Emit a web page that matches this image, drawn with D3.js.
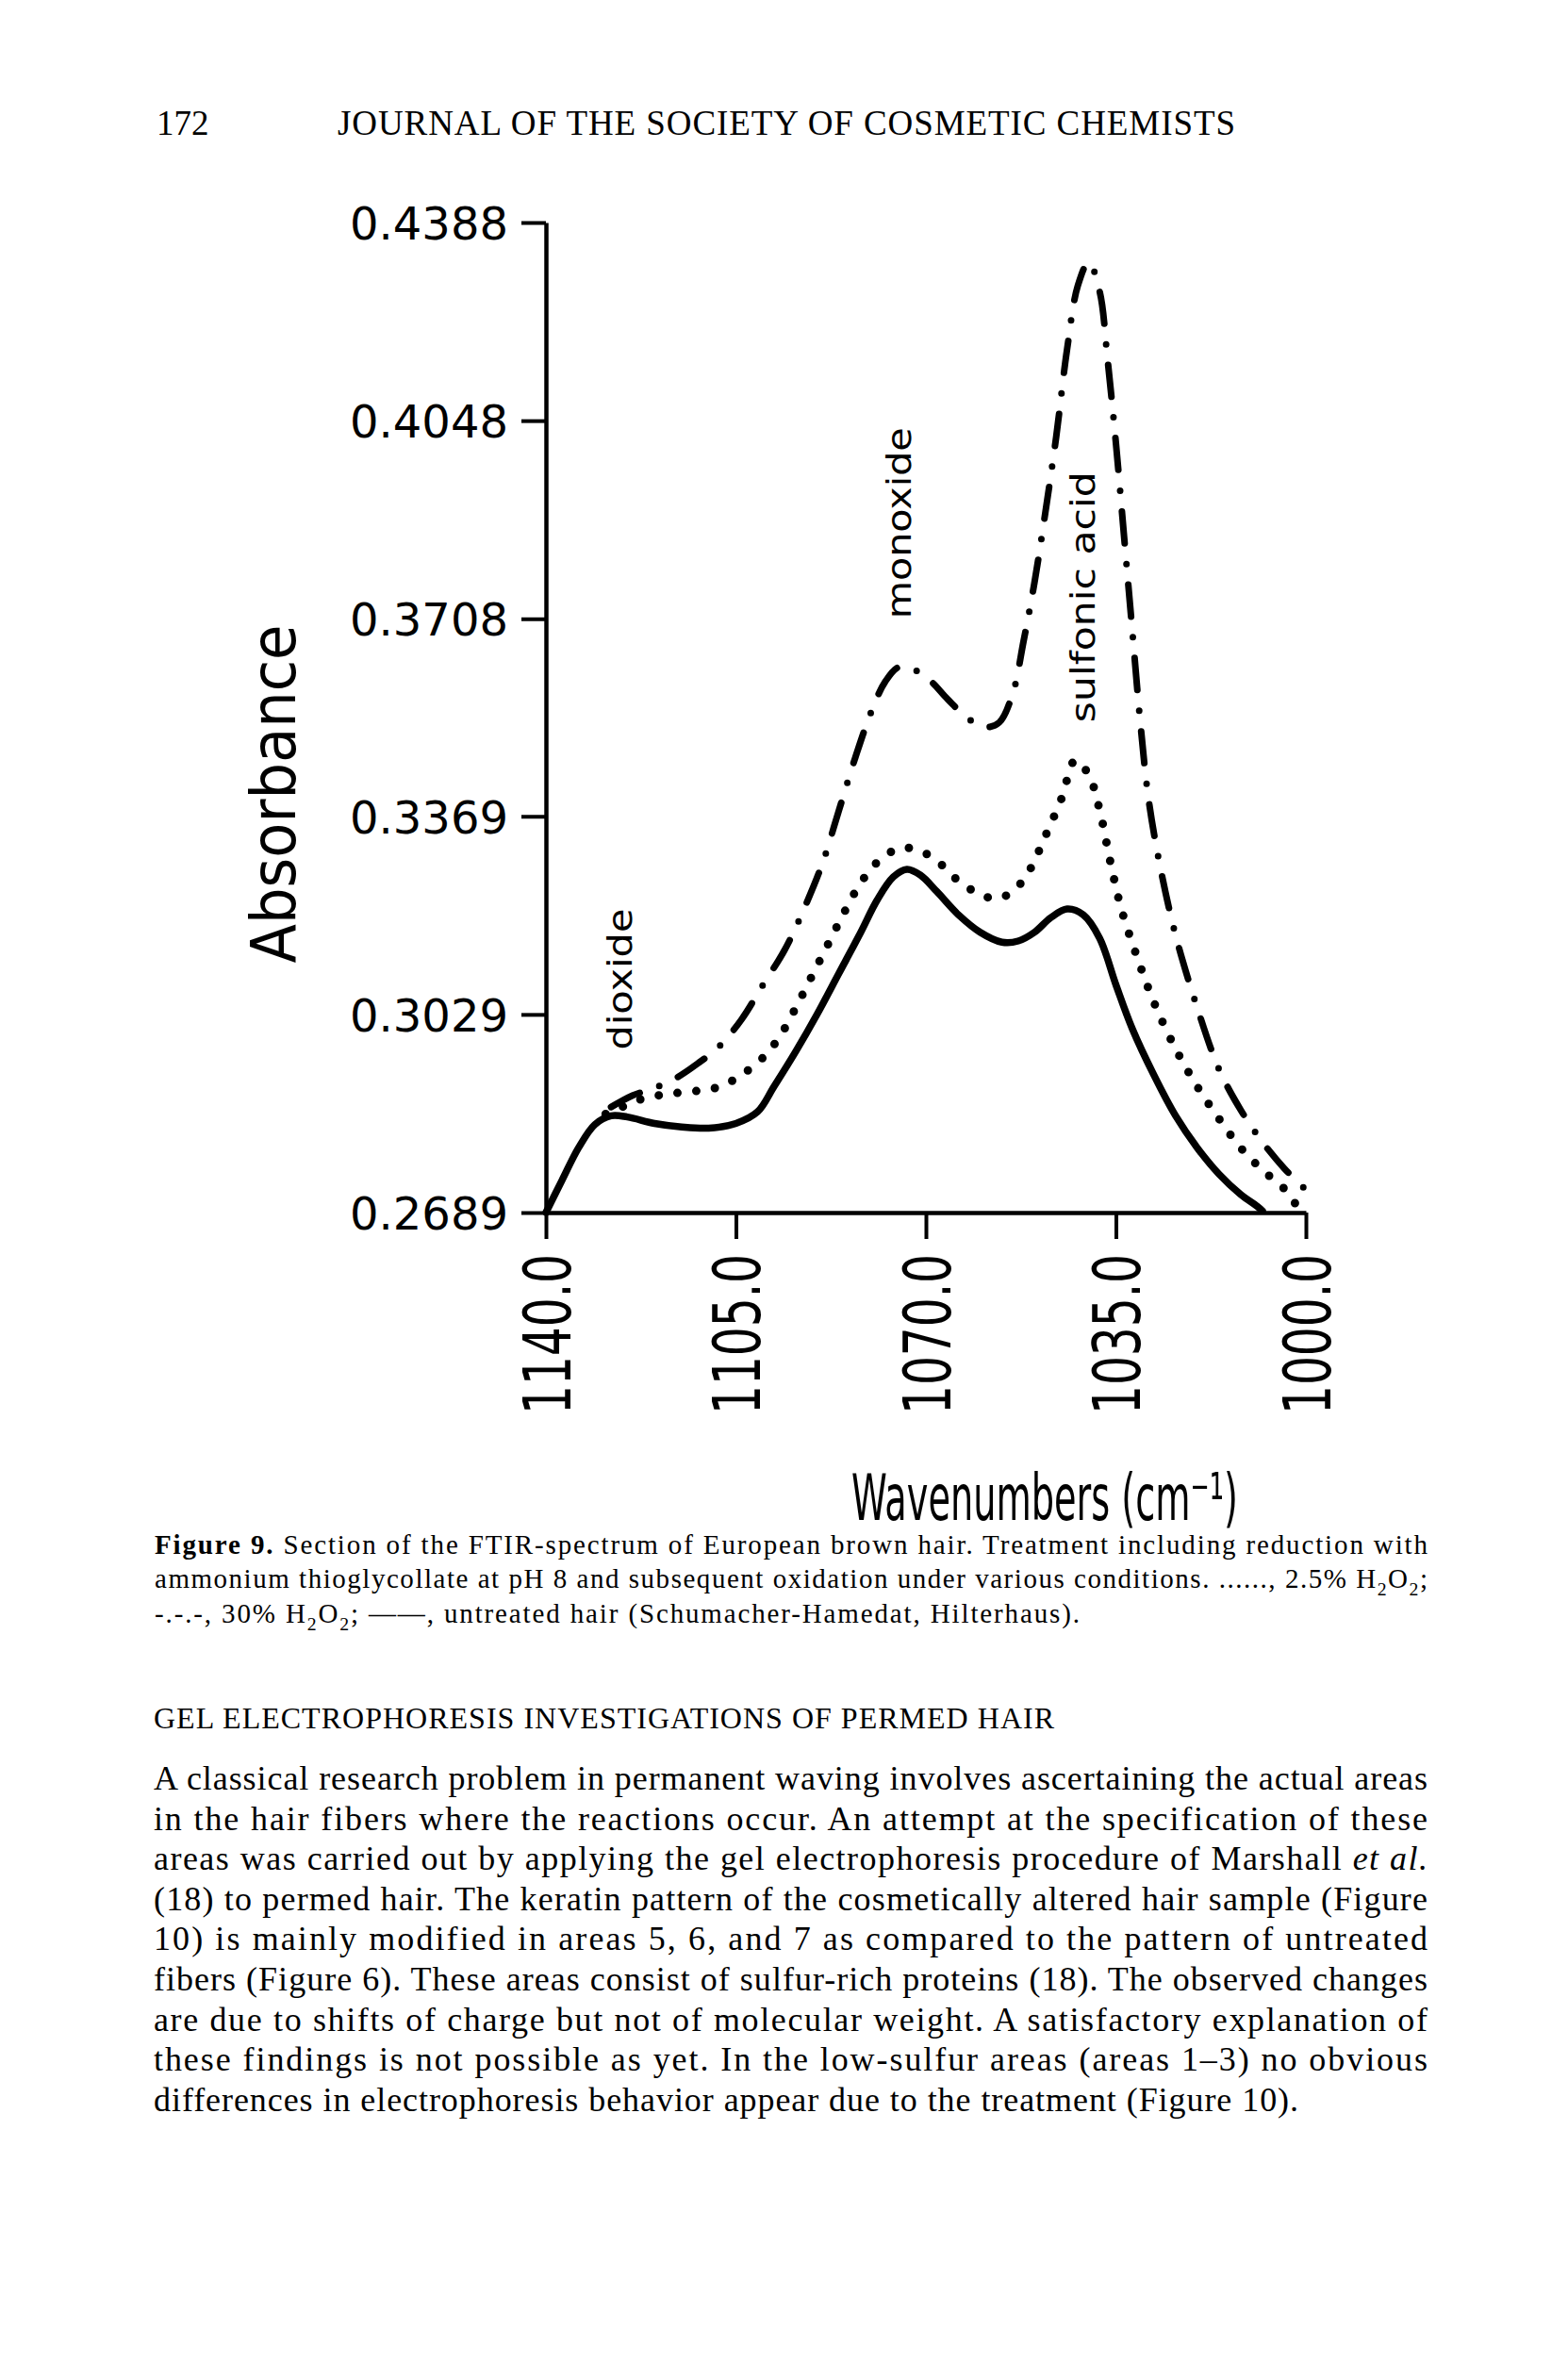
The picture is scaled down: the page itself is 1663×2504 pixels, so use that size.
<!DOCTYPE html>
<html>
<head>
<meta charset="utf-8">
<script src="https://cdn.jsdelivr.net/npm/d3@7"></script>
<style>
  html, body { margin: 0; padding: 0; background: #fff; }
  svg { display: block; }
</style>
</head>
<body>
<script>
// ---------------- DATA ----------------
const yTicks = [0.2689, 0.3029, 0.3369, 0.3708, 0.4048, 0.4388];
const xTicks = [1140, 1105, 1070, 1035, 1000];

// untreated hair (solid)
const untreatedWn  = [1140, 1137, 1134, 1131, 1128, 1125, 1120, 1115, 1110, 1105, 1101, 1098, 1094, 1090, 1086, 1082, 1079, 1076, 1073.5, 1071, 1068, 1064, 1060, 1056, 1053, 1050, 1047, 1044, 1041, 1038, 1035, 1032, 1028, 1024, 1020, 1016, 1012, 1009, 1008];
const untreatedAbs = [0.2689, 0.2745, 0.2800, 0.2840, 0.2855, 0.2853, 0.2842, 0.2836, 0.2834, 0.2842, 0.2862, 0.2905, 0.2965, 0.3030, 0.3100, 0.3170, 0.3225, 0.3265, 0.3278, 0.3268, 0.3240, 0.3200, 0.3170, 0.3153, 0.3155, 0.3170, 0.3195, 0.3210, 0.3200, 0.3160, 0.3080, 0.3005, 0.2925, 0.2855, 0.2800, 0.2755, 0.2720, 0.2700, 0.2692];

// 2.5% H2O2 (dotted)
const h2o2LowWn  = [1129, 1126, 1122, 1117, 1112, 1108, 1104, 1100, 1097, 1094, 1091, 1088, 1085, 1082, 1079, 1076, 1073.5, 1070, 1067, 1064, 1060, 1057, 1054, 1051, 1048, 1045, 1042.5, 1040, 1038, 1036, 1034, 1031, 1028, 1024, 1020, 1016, 1012, 1008, 1004, 1002];
const h2o2LowAbs = [0.2858, 0.2870, 0.2885, 0.2893, 0.2898, 0.2905, 0.2925, 0.2955, 0.2990, 0.3040, 0.3095, 0.3150, 0.3205, 0.3255, 0.3290, 0.3310, 0.3315, 0.3305, 0.3285, 0.3258, 0.3235, 0.3228, 0.3240, 0.3275, 0.3335, 0.3400, 0.3465, 0.3440, 0.3380, 0.3290, 0.3210, 0.3125, 0.3050, 0.2970, 0.2905, 0.2850, 0.2800, 0.2762, 0.2730, 0.2705];

// 30% H2O2 (dash-dot)
const h2o2HighWn  = [1128, 1124, 1120, 1116, 1112, 1108, 1104, 1100, 1096, 1092, 1089, 1086, 1083, 1080, 1077.5, 1075, 1072, 1069, 1066, 1062, 1059, 1056.5, 1054, 1052, 1050, 1048, 1046, 1044, 1042, 1040, 1038, 1036.5, 1035, 1033.5, 1032, 1030.5, 1029, 1027, 1024, 1020, 1016, 1012, 1008, 1004, 1000];
const h2o2HighAbs = [0.2870, 0.2890, 0.2903, 0.2920, 0.2945, 0.2975, 0.3020, 0.3080, 0.3140, 0.3220, 0.3290, 0.3380, 0.3470, 0.3550, 0.3600, 0.3625, 0.3620, 0.3600, 0.3570, 0.3535, 0.3522, 0.3530, 0.3580, 0.3670, 0.3770, 0.3890, 0.4020, 0.4170, 0.4280, 0.4320, 0.4270, 0.4150, 0.4010, 0.3850, 0.3690, 0.3530, 0.3400, 0.3290, 0.3165, 0.3040, 0.2935, 0.2865, 0.2810, 0.2765, 0.2728];

// band annotations
const bandLabels = ["monoxide", "sulfonic acid", "dioxide"];
const bandWn     = [1072.8, 1038.9, 1124.2];
const bandAbs    = [0.3708, 0.3530, 0.2968];

const yTitle = "Absorbance";
const xTitle = "Wavenumbers (cm\u207B\u00B9)";
const pageNumber = "172";
const runningHead = "JOURNAL OF THE SOCIETY OF COSMETIC CHEMISTS";

// ---------------- LAYOUT ----------------
const W = 1663, H = 2504;
const svg = d3.select("body").append("svg").attr("width", W).attr("height", H);
svg.append("rect").attr("width", W).attr("height", H).attr("fill", "#fff");

const PLOT = "'DejaVu Sans', 'Liberation Sans', sans-serif";
const SERIF = "'Liberation Serif', 'DejaVu Serif', serif";

const x = d3.scaleLinear().domain([1140, 1000]).range([579, 1385]);
const y = d3.scaleLinear().domain([0.2689, 0.4388]).range([1286, 236]);

// ---- axes ----
const gy = svg.append("g").attr("transform", `translate(${x(1140)},0)`)
  .call(d3.axisLeft(y).tickValues(yTicks).tickSize(26).tickSizeOuter(0).tickFormat(d3.format(".4f")));
gy.attr("font-family", null).attr("font-size", null);
gy.select(".domain").attr("stroke", "#000").attr("stroke-width", 4.5);
gy.selectAll(".tick line").attr("stroke", "#000").attr("stroke-width", 4);
gy.selectAll(".tick text")
  .attr("x", -40).attr("dy", "0.36em")
  .attr("font-family", PLOT).attr("font-size", 48).attr("fill", "#000")
  .attr("textLength", 168).attr("lengthAdjust", "spacingAndGlyphs");

const gx = svg.append("g").attr("transform", `translate(0,${y(0.2689)})`)
  .call(d3.axisBottom(x).tickValues(xTicks).tickSize(28).tickSizeOuter(0).tickFormat(d3.format(".1f")));
gx.attr("font-family", null).attr("font-size", null);
gx.select(".domain").attr("stroke", "#000").attr("stroke-width", 4.5);
gx.selectAll(".tick line").attr("stroke", "#000").attr("stroke-width", 4);
gx.selectAll(".tick text")
  .attr("transform", "rotate(-90)")
  .attr("x", -44).attr("y", 0).attr("dy", "0.36em")
  .attr("text-anchor", "end")
  .attr("font-family", PLOT).attr("font-size", 70).attr("fill", "#000")
  .attr("textLength", 170).attr("lengthAdjust", "spacingAndGlyphs");

// ---- axis titles ----
svg.append("text")
  .attr("transform", "translate(313,842) rotate(-90)")
  .attr("text-anchor", "middle")
  .attr("font-family", PLOT).attr("font-size", 66)
  .attr("textLength", 359).attr("lengthAdjust", "spacingAndGlyphs")
  .text(yTitle);

svg.append("text")
  .attr("x", 903).attr("y", 1612)
  .attr("font-family", PLOT).attr("font-size", 68)
  .attr("textLength", 410).attr("lengthAdjust", "spacingAndGlyphs")
  .text(xTitle);

// ---- curves ----
function series(wn, ab) { return wn.map((w, i) => [w, ab[i]]); }
const line = d3.line().x(d => x(d[0])).y(d => y(d[1])).curve(d3.curveCatmullRom.alpha(0.5));

svg.append("path").datum(series(h2o2HighWn, h2o2HighAbs))
  .attr("d", line).attr("fill", "none").attr("stroke", "#000")
  .attr("stroke-width", 7).attr("stroke-linecap", "round")
  .attr("stroke-dasharray", "34 22 0 22");

svg.append("path").datum(series(h2o2LowWn, h2o2LowAbs))
  .attr("d", line).attr("fill", "none").attr("stroke", "#000")
  .attr("stroke-width", 9).attr("stroke-linecap", "round")
  .attr("stroke-dasharray", "0 20");

svg.append("path").datum(series(untreatedWn, untreatedAbs))
  .attr("d", line).attr("fill", "none").attr("stroke", "#000")
  .attr("stroke-width", 7.5).attr("stroke-linejoin", "round").attr("stroke-linecap", "round");

// ---- band labels ----
const bandLen = {"monoxide": 203, "sulfonic acid": 266, "dioxide": 150};
bandLabels.forEach((t, i) => {
  svg.append("text")
    .attr("transform", `translate(${x(bandWn[i])},${y(bandAbs[i])}) rotate(-90)`)
    .attr("font-family", PLOT).attr("font-size", 35)
    .attr("textLength", bandLen[t]).attr("lengthAdjust", "spacingAndGlyphs")
    .text(t);
});

// ---------------- PAGE TEXT ----------------
function textLine(xp, yp, segs, size, target) {
  const t = svg.append("text").attr("x", xp).attr("y", yp)
    .attr("font-family", SERIF).attr("font-size", size).attr("fill", "#000");
  let shift = 0;
  segs.forEach(s => {
    const seg = typeof s === "string" ? {t: s} : s;
    const ts = t.append("tspan").text(seg.t);
    const want = seg.sub ? Math.round(size * 0.28) : 0;
    if (want !== shift) { ts.attr("dy", want - shift); shift = want; }
    if (seg.sub) ts.attr("font-size", size * 0.68);
    if (seg.b) ts.attr("font-weight", "bold");
    if (seg.i) ts.attr("font-style", "italic");
  });
  if (target) {
    const node = t.node();
    const w = node.getComputedTextLength();
    const n = node.getNumberOfChars();
    const ls = (target - xp - w) / (n - 1);
    t.attr("letter-spacing", ls.toFixed(3));
  }
  return t;
}

// running head
textLine(166, 143, [pageNumber], 37);
textLine(358, 143, [runningHead], 37, 1310);

// caption
const capSize = 29;
textLine(164, 1648, [{t: "Figure 9.", b: true}, " Section of the FTIR-spectrum of European brown hair. Treatment including reduction with"], capSize, 1514);
textLine(164, 1684, ["ammonium thioglycollate at pH 8 and subsequent oxidation under various conditions. ......, 2.5% H", {t: "2", sub: true}, "O", {t: "2", sub: true}, ";"], capSize, 1514);
textLine(164, 1721, ["-.-.-, 30% H", {t: "2", sub: true}, "O", {t: "2", sub: true}, "; \u2014\u2014, untreated hair (Schumacher-Hamedat, Hilterhaus)."], capSize, 1145);

// heading
textLine(163, 1833, ["GEL ELECTROPHORESIS INVESTIGATIONS OF PERMED HAIR"], 32, 1118);

// paragraph
const para = [
  [["A classical research problem in permanent waving involves ascertaining the actual areas"], 1514],
  [["in the hair fibers where the reactions occur. An attempt at the specification of these"], 1514],
  [["areas was carried out by applying the gel electrophoresis procedure of Marshall ", {t: "et al.", i: true}], 1514],
  [["(18) to permed hair. The keratin pattern of the cosmetically altered hair sample (Figure"], 1514],
  [["10) is mainly modified in areas 5, 6, and 7 as compared to the pattern of untreated"], 1514],
  [["fibers (Figure 6). These areas consist of sulfur-rich proteins (18). The observed changes"], 1514],
  [["are due to shifts of charge but not of molecular weight. A satisfactory explanation of"], 1514],
  [["these findings is not possible as yet. In the low-sulfur areas (areas 1\u20133) no obvious"], 1514],
  [["differences in electrophoresis behavior appear due to the treatment (Figure 10)."], 1377]
];
para.forEach((p, i) => textLine(163, 1898 + i * 42.6, p[0], 36, p[1]));
</script>
</body>
</html>
